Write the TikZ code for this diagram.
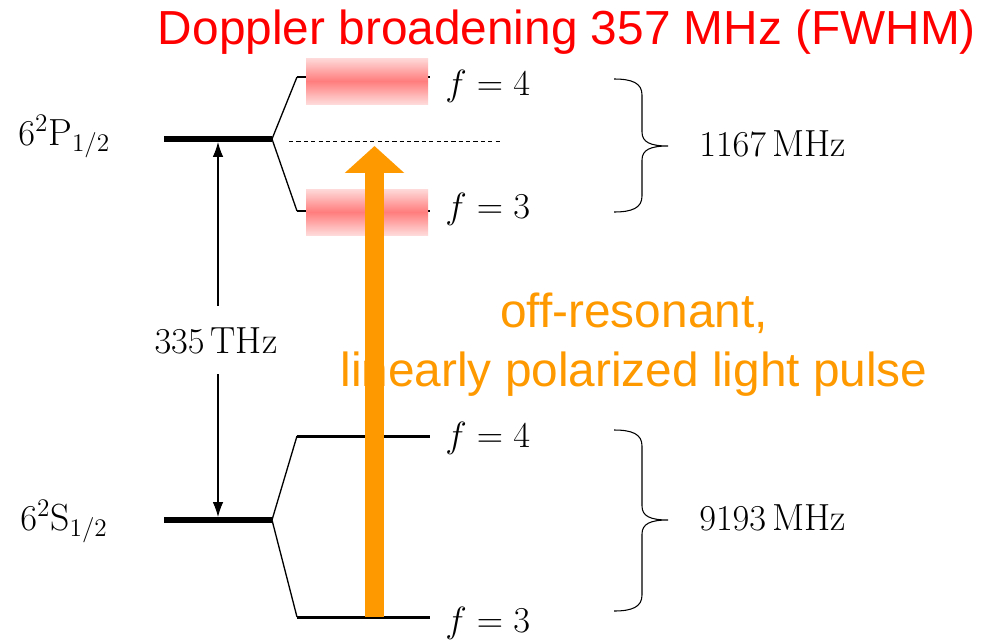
\documentclass[tikz,border=0pt]{standalone}
\usepackage{fontspec}
\newfontfamily\slidefont{Liberation Sans}
\usetikzlibrary{arrows.meta}

\begin{document}
\begin{tikzpicture}[x=0.02cm,y=-0.02cm,
    lvl/.style={line width=2.9pt},
    hfs/.style={line width=1.7pt},
    split/.style={line width=0.75pt},
    mathlbl/.style={inner sep=0pt,font=\fontsize{21.5}{25}\selectfont},
    slide/.style={inner sep=0pt,font=\slidefont\fontsize{27.2}{33.5}\selectfont}]

% Canvas: 983 x 639 px, 1 px = 0.02 cm, y grows downwards
\useasboundingbox (0,0) rectangle (983,639);

\definecolor{Cdop}{RGB}{255,0,0}       % red    - Doppler title
\definecolor{Cpulse}{RGB}{255,153,0}   % orange - light pulse
\definecolor{Cpkmid}{RGB}{255,125,125} % pink   - line centre
\definecolor{Cpkedge}{RGB}{255,218,218}% pink   - line wings

% ── Fine-structure levels ────────────────────────────────────────────────────
\draw[lvl] (164,139) -- (272,139) coordinate (P);
\draw[lvl] (164,520) -- (272,520) coordinate (S);

% ── Hyperfine splitting ──────────────────────────────────────────────────────
\foreach \lv/\yu/\yd in {P/77/211, S/436/617} {
  \draw[split] (\lv) -- (297,\yu);
  \draw[split] (\lv) -- (297,\yd);
  \draw[hfs] (297,\yu) -- (430,\yu);
  \draw[hfs] (297,\yd) -- (430,\yd);
}

% ── Doppler profiles on the excited hyperfine levels ─────────────────────────
\foreach \y in {58,189}
  \shade[top color=Cpkedge,bottom color=Cpkedge,middle color=Cpkmid]
    (306,\y) rectangle (428,\y+46);

% virtual level of the detuned pulse
\draw[dashed,line width=0.5pt,dash pattern=on 2.4pt off 1.8pt]
  (289,141) coordinate (virt0) -- (502,141) coordinate (virt1);

% ── Level labels ─────────────────────────────────────────────────────────────
\node[mathlbl,anchor=base west] (Plbl) at (18,145) {$6^2\mathrm{P}_{1/2}$};
\node[mathlbl,anchor=base west] (Slbl) at (20,530) {$6^2\mathrm{S}_{1/2}$};

\foreach \y/\f [count=\i] in {95/4, 218/3, 447/4, 632/3}
  \node[mathlbl,anchor=base west] (f\i) at (445,\y) {$f=\f$};

% ── Hyperfine braces ─────────────────────────────────────────────────────────
\foreach \yt/\yb/\ym/\lbl in {79/212/146/1167, 430/611/520/9193} {
  \draw[line width=0.6pt]
    (614,\yt) .. controls (632,\yt) and (642,\yt+4) .. (642,\yt+16)
    -- (642,\ym-14) .. controls (642,\ym-4) and (650,\ym) .. (668,\ym)
    .. controls (650,\ym) and (642,\ym+4) .. (642,\ym+14)
    -- (642,\yb-16) .. controls (642,\yb-4) and (632,\yb) .. (614,\yb);
  \node[mathlbl,anchor=base west] (hfs\lbl) at (699,\ym+10) {$\lbl\,\mathrm{MHz}$};
}

% ── Optical transition D1 ────────────────────────────────────────────────────
\coordinate (Ptip) at (218,142);
\coordinate (Stip) at (218,517);
\draw[line width=0.6pt,{Latex[length=8.5pt,width=6pt]}-{Latex[length=8.5pt,width=6pt]}]
  (Ptip) -- (Stip);
\node[mathlbl,fill=white,inner xsep=2pt,inner ysep=12pt,anchor=base] (d1)
  at (216,353) {$335\,\mathrm{THz}$};

% ── Light pulse ──────────────────────────────────────────────────────────────
\node[slide,text=Cpulse,align=center,anchor=north] (pulsetxt) at (634,293)
  {off-resonant,\\linearly polarized light pulse};

\coordinate (pulse0) at (374.5,617);
\coordinate (pulse1) at (374.5,146);
\draw[Cpulse,line width=0.39cm,-{Triangle[length=0.54cm,width=1.16cm]}]
  (pulse0) -- (pulse1);

% ── Title ────────────────────────────────────────────────────────────────────
\node[slide,text=Cdop,anchor=base] (doppler) at (567,44)
  {Doppler broadening 357 MHz (FWHM)};

\end{tikzpicture}
\end{document}
